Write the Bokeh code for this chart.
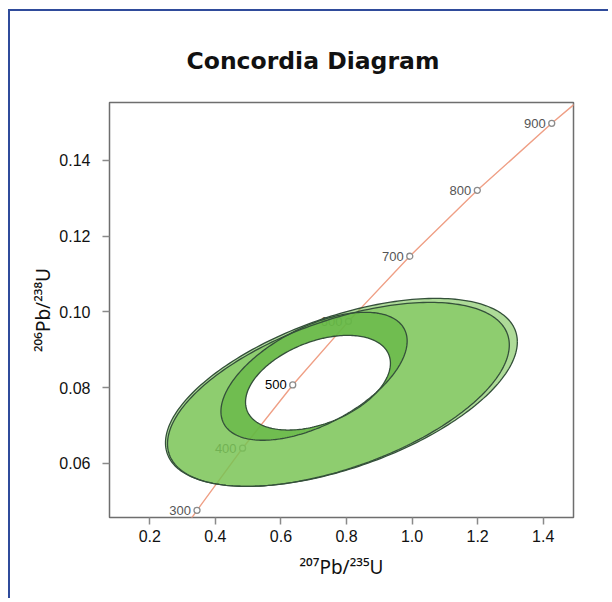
import numpy as np
from bokeh.plotting import figure
from bokeh.models import Range1d, FixedTicker, ColumnDataSource
from bokeh.core.properties import value
from bokeh.embed import file_html
from bokeh.resources import INLINE

# ---------------- data ----------------
title_text = "Concordia Diagram"
x_label = "\u00b2\u2070\u2077Pb/\u00b2\u00b3\u2075U"
y_label = "\u00b2\u2070\u2076Pb/\u00b2\u00b3\u2078U"

x_ticks = [0.2, 0.4, 0.6, 0.8, 1.0, 1.2, 1.4]
x_tick_labels = ["0.2", "0.4", "0.6", "0.8", "1.0", "1.2", "1.4"]
y_ticks = [0.06, 0.08, 0.10, 0.12, 0.14]
y_tick_labels = ["0.06", "0.08", "0.10", "0.12", "0.14"]

# concordia curve (age in Ma, 207Pb/235U, 206Pb/238U)
curve_age = [250, 300, 400, 500, 600, 700, 800, 900, 950]
curve_x = [0.279, 0.344, 0.483, 0.636, 0.806, 0.993, 1.199, 1.426, 1.549]
curve_y = [0.0395, 0.0476, 0.0640, 0.0807, 0.0975, 0.1147, 0.1321, 0.1498, 0.1588]

# labelled age markers
marker_age = [300, 400, 500, 600, 700, 800, 900]

# error ellipses (outer A, outer B, inner ring C, central hole D):
# centre, half-extent in x and y, correlation
ell_cx = [0.7845, 0.7753, 0.7010, 0.7130]
ell_cy = [0.07875, 0.07822, 0.08300, 0.0813]
ell_sx = [0.5366, 0.5213, 0.2840, 0.2210]
ell_sy = [0.02482, 0.02429, 0.0169, 0.0125]
ell_rho = [0.537, 0.537, 0.55, 0.41]

# ---------------- figure ----------------
p = figure(width=600, height=589,
           x_range=Range1d(0.0771, 1.4924), y_range=Range1d(0.0457, 0.1553),
           output_backend="svg", toolbar_location=None,
           min_border_left=99, min_border_top=91, min_border_right=37, min_border_bottom=83)
p.styles = {"margin-left": "8px", "margin-top": "9px",
            "border-top": "2px solid #2f4b9b", "border-left": "2px solid #2f4b9b"}
p.background_fill_color = "white"
p.border_fill_color = "white"
p.outline_line_color = "#6e6e6e"
p.outline_line_width = 1.5
p.xgrid.visible = False
p.ygrid.visible = False

p.title.text = title_text
p.title.align = "left"
p.title.offset = 77
p.title.standoff = 56
p.title.text_font = "DejaVu Sans"
p.title.text_font_style = "bold"
p.title.text_font_size = "23.5px"
p.title.text_color = "#111111"

for ax, ticks, labels, lab in ((p.xaxis[0], x_ticks, x_tick_labels, x_label),
                               (p.yaxis[0], y_ticks, y_tick_labels, y_label)):
    ax.ticker = FixedTicker(ticks=ticks)
    ax.major_label_overrides = {t: l for t, l in zip(ticks, labels)}
    ax.axis_line_color = None
    ax.major_tick_line_color = "#8a8a8a"
    ax.major_tick_line_width = 1.5
    ax.major_tick_out = 7
    ax.major_tick_in = 0
    ax.minor_tick_line_color = None
    ax.major_label_text_font = "Liberation Sans"
    ax.major_label_text_font_size = "16px"
    ax.major_label_text_color = "#111111"
    ax.axis_label = lab
    ax.axis_label_text_font = "Noto Sans"
    ax.axis_label_text_font_size = "19px"
    ax.axis_label_text_font_style = "normal"
    ax.axis_label_text_color = "#111111"
p.yaxis[0].major_label_orientation = "horizontal"
p.xaxis[0].major_label_standoff = 5
p.yaxis[0].major_label_standoff = 12
p.xaxis[0].axis_label_standoff = 9
p.yaxis[0].axis_label_standoff = 0

# concordia curve
p.line(curve_x, curve_y, line_color="#ef9f85", line_width=1.4)

idx = [curve_age.index(a) for a in marker_age]
mx = [curve_x[i] for i in idx]
my = [curve_y[i] for i in idx]
msrc = ColumnDataSource(dict(
    x=mx, y=my, t=[str(a) for a in marker_age],
    c=["#000000" if a == 500 else "#555555" for a in marker_age],
))
p.scatter("x", "y", source=msrc, marker="circle", size=6, fill_color="white",
          line_color="#8c8c8c", line_width=1.3)
p.text("x", "y", text="t", source=msrc, text_color="c", text_font_size="13px",
       text_font=value("Liberation Sans"), text_align="right",
       text_baseline="middle", x_offset=-6)

# ellipses
tt = np.linspace(0, 2 * np.pi, 240)
rings = []
for cx, cy, sx, sy, r in zip(ell_cx, ell_cy, ell_sx, ell_sy, ell_rho):
    ex = cx + sx * np.cos(tt)
    ey = cy + sy * (r * np.cos(tt) + np.sqrt(1 - r * r) * np.sin(tt))
    rings.append((list(ex), list(ey)))

hole = rings[3]
fills = ["#78c353", "#78c353", "#5bb33c"]
for k in range(3):
    outer = rings[k]
    p.multi_polygons(xs=[[[outer[0], hole[0]]]], ys=[[[outer[1], hole[1]]]],
                     fill_color=fills[k], fill_alpha=0.6, line_color=None)
for k in range(4):
    p.line(rings[k][0], rings[k][1], line_color="#34503a", line_width=1.3)

open("out.html", "w").write(file_html(p, INLINE))
